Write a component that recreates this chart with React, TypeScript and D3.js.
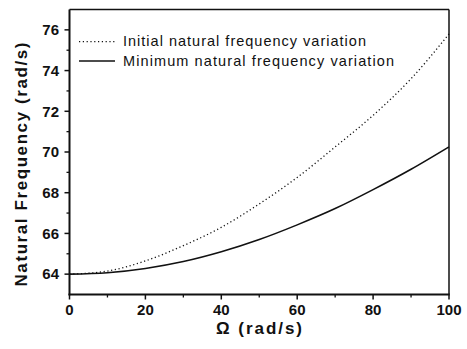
import React from "react";
import * as d3 from "d3";

const omega = [0, 10, 20, 30, 40, 50, 60, 70, 80, 90, 100];
const initialFreq = [64.0, 64.15, 64.65, 65.4, 66.3, 67.45, 68.75, 70.25, 71.8, 73.6, 75.8];
const minimumFreq = [64.0, 64.07, 64.28, 64.62, 65.1, 65.7, 66.42, 67.22, 68.15, 69.15, 70.25];
const xMajorTicks = [0, 20, 40, 60, 80, 100];
const xMinorTicks = [10, 30, 50, 70, 90];
const yMajorTicks = [64, 66, 68, 70, 72, 74, 76];
const yMinorTicks = [65, 67, 69, 71, 73, 75];
const legendLabels = ["Initial natural frequency variation", "Minimum natural frequency variation"];

const W = 467;
const H = 349;
const left = 69.5;
const right = 449;
const top = 9.5;
const bottom = 294.5;

export default function App() {
  const x = d3.scaleLinear().domain([0, 100]).range([left, right]);
  const y = d3.scaleLinear().domain([63, 77]).range([bottom, top]);
  const line = d3
    .line<number>()
    .x((_, i) => x(omega[i]))
    .y((d) => y(d))
    .curve(d3.curveMonotoneX);
  const font = "'Liberation Sans', Arial, Helvetica, sans-serif";

  return (
    <svg
      width={W}
      height={H}
      style={{ position: "absolute", left: 0, top: 0, background: "#fff" }}
      fontFamily={font}
    >
      <rect x={0} y={0} width={W} height={H} fill="#fff" />
      {/* curves */}
      <path d={line(initialFreq) || ""} fill="none" stroke="#111" strokeWidth={1.3} strokeDasharray="1.2,2.6" />
      <path d={line(minimumFreq) || ""} fill="none" stroke="#111" strokeWidth={1.6} />
      {/* frame */}
      <line x1={left} x2={right} y1={top} y2={top} stroke="#111" strokeWidth={1.5} />
      <line x1={right} x2={right} y1={top} y2={bottom} stroke="#111" strokeWidth={1.5} />
      <line x1={left} x2={left} y1={top} y2={bottom + 0.8} stroke="#111" strokeWidth={2} />
      <line x1={left - 1} x2={right + 0.8} y1={bottom} y2={bottom} stroke="#111" strokeWidth={2} />
      {/* x ticks */}
      {xMajorTicks.map((t) => (
        <g key={"xm" + t}>
          <line x1={x(t)} x2={x(t)} y1={bottom} y2={bottom + 5} stroke="#111" strokeWidth={1.5} />
          <text x={x(t)} y={315} textAnchor="middle" fontSize={15} fontWeight="bold" fill="#111">
            {t}
          </text>
        </g>
      ))}
      {xMinorTicks.map((t) => (
        <line key={"xn" + t} x1={x(t)} x2={x(t)} y1={bottom} y2={bottom + 3} stroke="#111" strokeWidth={1.3} />
      ))}
      {/* y ticks */}
      {yMajorTicks.map((t) => (
        <g key={"ym" + t}>
          <line x1={left - 5} x2={left} y1={y(t)} y2={y(t)} stroke="#111" strokeWidth={1.5} />
          <text x={59} y={y(t) + 5.3} textAnchor="end" fontSize={15} fontWeight="bold" fill="#111">
            {t}
          </text>
        </g>
      ))}
      {yMinorTicks.map((t) => (
        <line key={"yn" + t} x1={left - 3} x2={left} y1={y(t)} y2={y(t)} stroke="#111" strokeWidth={1.3} />
      ))}
      {/* legend */}
      <line x1={79} x2={115} y1={41.7} y2={41.7} stroke="#111" strokeWidth={1.2} strokeDasharray="1.2,2.6" />
      <text x={123} y={46} fontSize={14.5} fill="#111" textLength={243} lengthAdjust="spacing">
        {legendLabels[0]}
      </text>
      <line x1={79} x2={115} y1={61} y2={61} stroke="#111" strokeWidth={1.5} />
      <text x={123} y={65.5} fontSize={14.5} fill="#111" textLength={271} lengthAdjust="spacing">
        {legendLabels[1]}
      </text>
      {/* axis titles */}
      <text x={259} y={334} textAnchor="middle" fontSize={17} fontWeight="bold" fill="#111" textLength={86} lengthAdjust="spacing">
        Ω (rad/s)
      </text>
      <text
        transform="translate(26.5,164.5) rotate(-90)"
        textAnchor="middle"
        fontSize={17}
        fontWeight="bold"
        fill="#111"
        textLength={244}
        lengthAdjust="spacing"
      >
        Natural Frequency (rad/s)
      </text>
    </svg>
  );
}
